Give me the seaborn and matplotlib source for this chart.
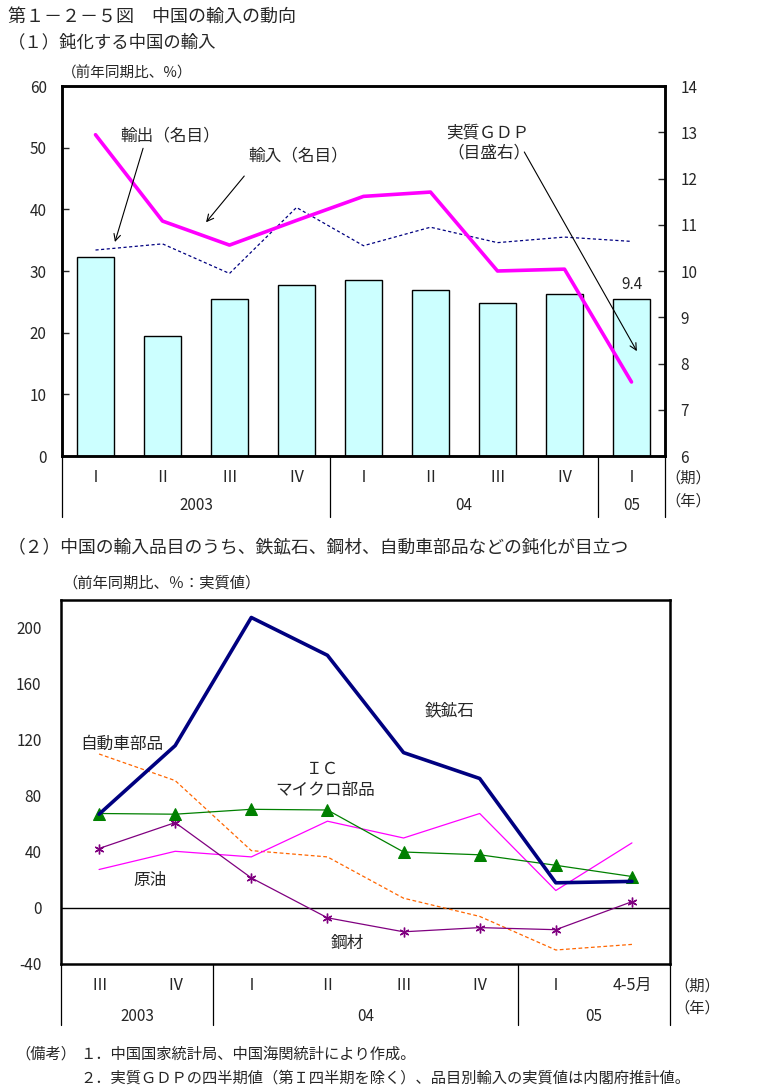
import numpy as np
import pandas as pd
import matplotlib
matplotlib.use("Agg")
import matplotlib.pyplot as plt
import matplotlib.transforms as mtransforms
import seaborn as sns

# ---------------- data ----------------
# Panel 1
q_labels1 = ["Ⅰ", "Ⅱ", "Ⅲ", "Ⅳ", "Ⅰ", "Ⅱ", "Ⅲ", "Ⅳ", "Ⅰ"]
years1 = ["2003", "04", "05"]
gdp_real = [10.3, 8.6, 9.4, 9.7, 9.8, 9.6, 9.3, 9.5, 9.4]          # right axis
imports_nominal = [52.1, 38.1, 34.2, 38.2, 42.1, 42.8, 30.0, 30.3, 12.0]
exports_nominal = [33.4, 34.4, 29.6, 40.3, 34.1, 37.1, 34.6, 35.5, 34.8]

# Panel 2
q_labels2 = ["Ⅲ", "Ⅳ", "Ⅰ", "Ⅱ", "Ⅲ", "Ⅳ", "Ⅰ", "4-5月"]
years2 = ["2003", "04", "05"]
iron_ore = [67.0, 116.0, 207.5, 180.5, 111.0, 92.5, 18.0, 19.0]
ic_parts = [67.5, 67.0, 70.5, 70.0, 40.0, 38.0, 30.5, 22.5]
crude_oil = [27.5, 40.5, 36.5, 62.0, 50.0, 67.5, 12.5, 46.5]
steel = [42.5, 61.0, 21.5, -7.0, -17.0, -14.0, -15.5, 4.5]
auto_parts = [110.0, 91.0, 41.0, 36.5, 7.0, -6.0, -30.0, -26.0]

# ---------------- style ----------------
sns.set_style("white")
plt.rcParams["font.family"] = ["Noto Sans CJK JP", "DejaVu Sans"]
plt.rcParams["axes.unicode_minus"] = False

W, H = 762, 1092
fig = plt.figure(figsize=(W / 100, H / 100), dpi=100)


def ftext(x, y, s, size=11, ha="left", va="center", **kw):
    fig.text(x / W, 1 - y / H, s, fontsize=size, ha=ha, va=va, **kw)


def add_axes_px(left, top, right, bottom):
    return fig.add_axes([left / W, 1 - bottom / H, (right - left) / W, (bottom - top) / H])


# ---------------- titles ----------------
ftext(8, 18, "第１－２－５図　中国の輸入の動向", size=13)
ftext(8, 42, "（１）鈍化する中国の輸入", size=12.5)
ftext(62, 73, "（前年同期比、%）", size=10.5)

# ---------------- panel 1 ----------------
ax = add_axes_px(62, 86, 665, 456)
ax2 = ax.twinx()

x1 = np.arange(len(gdp_real))
df1 = pd.DataFrame({"x": x1, "gdp": gdp_real, "imp": imports_nominal, "exp": exports_nominal})

sns.barplot(data=df1, x="x", y="gdp", native_scale=True, ax=ax2, color="#CCFFFF",
            saturation=1, edgecolor="black", linewidth=1.0, width=0.55)
ax2.set_ylim(6, 14)
ax2.set_yticks(np.arange(6, 15, 1))
ax2.set_ylabel("")

sns.lineplot(data=df1, x="x", y="exp", ax=ax, color="#000080", linewidth=0.9,
             linestyle=(0, (2.5, 2)))
sns.lineplot(data=df1, x="x", y="imp", ax=ax, color="#FF00FF", linewidth=2.6)
ax.set_zorder(ax2.get_zorder() + 1)
ax.patch.set_visible(False)
ax.set_ylim(0, 60)
ax.set_yticks(np.arange(0, 61, 10))
ax.set_xlim(-0.5, len(gdp_real) - 0.5)
ax.set_xticks([])
ax2.set_xticks([])
ax.set_xlabel("")
ax.set_ylabel("")

for a in (ax, ax2):
    for sp in a.spines.values():
        sp.set_linewidth(1.8)
        sp.set_color("black")
ax.tick_params(axis="y", direction="in", length=5, width=1, labelsize=11, pad=11, left=True)
ax2.tick_params(axis="y", direction="in", length=5, width=1, labelsize=11, pad=11, right=True)

ax2.text(x1[-1], gdp_real[-1] + 0.13, f"{gdp_real[-1]:.1f}", ha="center", va="bottom", fontsize=11)

# category axis below panel 1
tr1 = mtransforms.blended_transform_factory(ax.transData, ax.transAxes)
for b in [-0.5, 3.5, 7.5, 8.5]:
    ax.plot([b, b], [0, -0.165], transform=tr1, color="black", lw=0.9, clip_on=False)
for i, q in enumerate(q_labels1):
    ax.text(i, -0.057, q, transform=tr1, ha="center", va="center", fontsize=11.5)
for xc, yr in zip([1.5, 5.5, 8.0], years1):
    ax.text(xc, -0.135, yr, transform=tr1, ha="center", va="center", fontsize=11)
ftext(688, 478, "（期）", size=11, ha="center")
ftext(688, 501, "（年）", size=11, ha="center")

# annotations panel 1
arrow = dict(arrowstyle="->", color="black", lw=0.8, shrinkA=0, shrinkB=0, mutation_scale=12)
ftext(120, 136, "輸出（名目）", size=12)
ax.annotate("", xy=(0.29, 34.7), xytext=(0.71, 49.9), arrowprops=arrow)
ftext(248, 156, "輸入（名目）", size=12)
ax.annotate("", xy=(1.65, 37.9), xytext=(2.22, 45.4), arrowprops=arrow)
ftext(488, 133, "実質ＧＤＰ", size=12, ha="center")
ftext(489, 153, "（目盛右）", size=12, ha="center")
ax.annotate("", xy=(8.08, 17.0), xytext=(6.4, 49.3), arrowprops=arrow)

# ---------------- panel 2 ----------------
ftext(8, 548, "（２）中国の輸入品目のうち、鉄鉱石、鋼材、自動車部品などの鈍化が目立つ", size=12.8)
ftext(62, 583, "（前年同期比、％：実質値）", size=11)

bx = add_axes_px(61, 600, 670, 964)
x2 = np.arange(len(iron_ore))
df2 = pd.DataFrame({"x": x2, "iron": iron_ore, "ic": ic_parts, "oil": crude_oil,
                    "steel": steel, "auto": auto_parts})

bx.axhline(0, color="black", lw=1.0, zorder=1)
sns.lineplot(data=df2, x="x", y="auto", ax=bx, color="#FF6600", linewidth=0.9,
             linestyle=(0, (3, 2)))
sns.lineplot(data=df2, x="x", y="oil", ax=bx, color="#FF00FF", linewidth=0.9)
sns.lineplot(data=df2, x="x", y="steel", ax=bx, color="#800080", linewidth=0.9,
             marker=(6, 2, 0), markersize=7, markeredgecolor="#800080", markeredgewidth=1.0)
sns.lineplot(data=df2, x="x", y="ic", ax=bx, color="#008000", linewidth=0.9,
             marker="^", markersize=8, markeredgecolor="#008000")
sns.lineplot(data=df2, x="x", y="iron", ax=bx, color="#000080", linewidth=2.6)

bx.set_xlim(-0.5, len(iron_ore) - 0.5)
bx.set_ylim(-40, 220)
bx.set_yticks(np.arange(-40, 201, 40))
bx.set_xticks([])
bx.set_xlabel("")
bx.set_ylabel("")
for sp in bx.spines.values():
    sp.set_linewidth(1.8)
    sp.set_color("black")
bx.tick_params(axis="y", length=0, labelsize=11, pad=14)

tr2 = mtransforms.blended_transform_factory(bx.transData, bx.transAxes)
for b in [-0.5, 1.5, 5.5, 7.5]:
    bx.plot([b, b], [0, -0.168], transform=tr2, color="black", lw=0.9, clip_on=False)
for i, q in enumerate(q_labels2):
    bx.text(i, -0.058, q, transform=tr2, ha="center", va="center", fontsize=11.5)
for xc, yr in zip([0.5, 3.5, 6.5], years2):
    bx.text(xc, -0.143, yr, transform=tr2, ha="center", va="center", fontsize=11)
ftext(697, 986, "（期）", size=11, ha="center")
ftext(697, 1008, "（年）", size=11, ha="center")

# series labels panel 2
ftext(450, 711, "鉄鉱石", size=12, ha="center")
ftext(122, 744, "自動車部品", size=12, ha="center")
ftext(323, 769, "ＩＣ", size=12, ha="center")
ftext(325, 790, "マイクロ部品", size=12, ha="center")
ftext(150, 880, "原油", size=12, ha="center")
ftext(347, 943, "鋼材", size=12, ha="center")

# notes
ftext(15, 1054, "（備考）", size=11)
ftext(80, 1054, "１．中国国家統計局、中国海関統計により作成。", size=11)
ftext(80, 1078, "２．実質ＧＤＰの四半期値（第Ｉ四半期を除く）、品目別輸入の実質値は内閣府推計値。", size=11)

fig.savefig("out.png", dpi=100)
